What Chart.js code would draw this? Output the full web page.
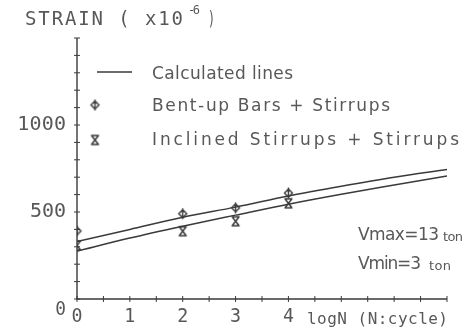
<!DOCTYPE html>
<html>
<head>
<meta charset="utf-8">
<script src="https://cdn.jsdelivr.net/npm/chart.js@4/dist/chart.umd.min.js"></script>
<style>
  html, body { margin: 0; padding: 0; background: #fff; }
  #wrap { width: 470px; height: 333px; }
</style>
</head>
<body>
<div id="wrap"><canvas id="c" width="470" height="333"></canvas></div>
<script>
// logN positions of the calculated curves
const logN = [0, 1, 2, 3, 4, 5, 6, 7];
// calculated strain (x10^-6), upper and lower curve
const calcUpper = [330, 400, 470, 528, 592, 648, 700, 745];
const calcLower = [275, 350, 418, 482, 545, 602, 655, 707];
// measured strain at the test cycles
const testLogN = [0, 2, 3, 4];
const bentUpBars = [391, 490, 524, 609];
const inclinedStirrups = [308, 390, 447, 550];
// axis labels
const xTickLabels = [0, 1, 2, 3, 4];
const yTickLabels = [0, 500, 1000];
const legendLabels = ['Calculated lines', 'Bent-up Bars + Stirrups', 'Inclined Stirrups + Stirrups'];
const loadLabels = [['Vmax=13', 'ton'], ['Vmin=3', 'ton']];

const INK = '#3a3a3a';
const TEXT = '#585858';

// plotter-like marker: diamond with a vertical stem
function makeDiamond() {
  const cv = document.createElement('canvas');
  cv.width = 13; cv.height = 13;
  const g = cv.getContext('2d');
  g.strokeStyle = INK; g.lineWidth = 1.4;
  g.beginPath();
  g.moveTo(6.5, 2.5); g.lineTo(10.5, 6.5); g.lineTo(6.5, 10.5); g.lineTo(2.5, 6.5); g.closePath();
  g.moveTo(6.5, 1); g.lineTo(6.5, 12);
  g.stroke();
  return cv;
}
// plotter-like marker: hourglass cross
function makeHourglass() {
  const cv = document.createElement('canvas');
  cv.width = 13; cv.height = 13;
  const g = cv.getContext('2d');
  g.strokeStyle = INK; g.lineWidth = 1.5;
  g.beginPath();
  g.moveTo(2.5, 2); g.lineTo(10.5, 2);
  g.moveTo(2.5, 11); g.lineTo(10.5, 11);
  g.moveTo(3, 2); g.lineTo(10, 11);
  g.moveTo(10, 2); g.lineTo(3, 11);
  g.stroke();
  return cv;
}
const diamondImg = makeDiamond();
const hourglassImg = makeHourglass();

// draw text stretched to a given width (vertical centre y)
function spacedText(ctx, str, x, y, font, width, align) {
  ctx.save();
  ctx.font = font;
  ctx.fillStyle = TEXT;
  ctx.textBaseline = 'middle';
  ctx.textAlign = 'left';
  if ('letterSpacing' in ctx) ctx.letterSpacing = '0px';
  const natural = ctx.measureText(str).width;
  let left = x;
  if (align === 'right') left = x - width;
  else if (align === 'center') left = x - width / 2;
  if ('letterSpacing' in ctx && str.length > 1) {
    ctx.letterSpacing = ((width - natural) / (str.length - 1)) + 'px';
    ctx.fillText(str, left, y);
  } else {
    ctx.translate(left, y);
    ctx.scale(width / natural, 1);
    ctx.fillText(str, 0, 0);
  }
  ctx.restore();
}

const decor = {
  id: 'decor',
  afterDraw(chart) {
    const ctx = chart.ctx;
    const xs = chart.scales.x, ys = chart.scales.y;
    const x0 = xs.getPixelForValue(xs.min), x1 = xs.getPixelForValue(xs.max);
    const y0 = ys.getPixelForValue(ys.min), y1 = ys.getPixelForValue(ys.max);

    // axes with crossing tick marks
    ctx.save();
    ctx.strokeStyle = INK;
    ctx.lineWidth = 1.4;
    ctx.beginPath();
    ctx.moveTo(x0, y1); ctx.lineTo(x0, y0); ctx.lineTo(x1, y0);
    ctx.stroke();
    ctx.lineWidth = 1;
    ctx.beginPath();
    ys.ticks.forEach(t => {
      const p = ys.getPixelForValue(t.value);
      ctx.moveTo(x0 - 3, p); ctx.lineTo(x0 + 3, p);
    });
    xs.ticks.forEach(t => {
      const p = xs.getPixelForValue(t.value);
      ctx.moveTo(p, y0 - 3); ctx.lineTo(p, y0 + 3);
    });
    ctx.stroke();
    ctx.restore();

    // tick labels
    const numFont = '20px "DejaVu Sans Mono"';
    yTickLabels.forEach(v => {
      const s = String(v);
      const p = ys.getPixelForValue(v) + (v === 0 ? 11 : 0);
      spacedText(ctx, s, x0 - 11, p, numFont, s.length * 12.7 - 2, 'right');
    });
    xTickLabels.forEach(v => {
      const s = String(v);
      spacedText(ctx, s, xs.getPixelForValue(v), y0 + 18, numFont, 11, 'center');
    });
    spacedText(ctx, 'logN (N:cycle)', 307, y0 + 21, '16px "DejaVu Sans Mono"', 141, 'left');

    // axis title
    spacedText(ctx, 'STRAIN ( x10', 25, 20, '19px "DejaVu Sans Mono"', 158, 'left');
    spacedText(ctx, '-6', 188, 11, '12px "DejaVu Sans Mono"', 12, 'left');
    spacedText(ctx, ')', 208, 20, '19px "DejaVu Sans Mono"', 7, 'left');

    // legend
    ctx.save();
    ctx.strokeStyle = INK; ctx.lineWidth = 1.4;
    ctx.beginPath(); ctx.moveTo(97, 72); ctx.lineTo(132, 72); ctx.stroke();
    ctx.drawImage(diamondImg, 95 - 6.5, 105 - 6.5);
    ctx.drawImage(hourglassImg, 95 - 6.5, 140 - 6.5);
    ctx.restore();
    const legFont = '17px "DejaVu Sans"';
    spacedText(ctx, legendLabels[0], 152, 75, legFont, 141, 'left');
    spacedText(ctx, legendLabels[1], 152, 107, legFont, 238, 'left');
    spacedText(ctx, legendLabels[2], 152, 141, legFont, 307, 'left');

    // load range note
    const vFont = '17px "DejaVu Sans"';
    const uFont = '13px "DejaVu Sans"';
    spacedText(ctx, loadLabels[0][0], 358, 236, vFont, 81, 'left');
    spacedText(ctx, loadLabels[0][1], 443, 238, uFont, 20, 'left');
    spacedText(ctx, loadLabels[1][0], 358, 265, vFont, 63, 'left');
    spacedText(ctx, loadLabels[1][1], 429, 267, uFont, 22, 'left');
  }
};

const toXY = (xs, ys) => xs.map((x, i) => ({ x: x, y: ys[i] }));

new Chart(document.getElementById('c'), {
  type: 'line',
  data: {
    datasets: [
      { label: legendLabels[0], data: toXY(logN, calcUpper), borderColor: INK, borderWidth: 1.5,
        pointRadius: 0, cubicInterpolationMode: 'monotone', fill: false },
      { label: legendLabels[0], data: toXY(logN, calcLower), borderColor: INK, borderWidth: 1.5,
        pointRadius: 0, cubicInterpolationMode: 'monotone', fill: false },
      { label: legendLabels[1], data: toXY(testLogN, bentUpBars), showLine: false,
        pointStyle: diamondImg, pointRadius: 6 },
      { label: legendLabels[2], data: toXY(testLogN, inclinedStirrups), showLine: false,
        pointStyle: hourglassImg, pointRadius: 6 }
    ]
  },
  options: {
    responsive: false,
    animation: false,
    events: [],
    layout: { autoPadding: false, padding: { left: 77, right: 23, top: 38, bottom: 34 } },
    plugins: { legend: { display: false }, tooltip: { enabled: false } },
    scales: {
      x: { type: 'linear', min: 0, max: 7,
           ticks: { display: false, stepSize: 0.5 },
           grid: { display: false, drawTicks: false }, border: { display: false } },
      y: { type: 'linear', min: 0, max: 1500,
           ticks: { display: false, stepSize: 100 },
           grid: { display: false, drawTicks: false }, border: { display: false } }
    }
  },
  plugins: [decor]
});
</script>
</body>
</html>
